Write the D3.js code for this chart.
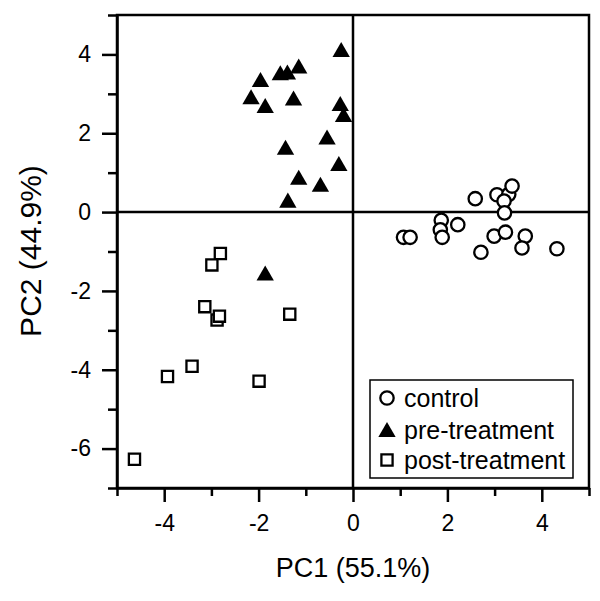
<!DOCTYPE html>
<html><head><meta charset="utf-8">
<script src="https://cdn.jsdelivr.net/npm/d3@7"></script>
<style>html,body{margin:0;padding:0;background:#fff;}</style>
</head><body>
<svg id="chart" width="600" height="601"></svg>
<script>
// Data
const controlX = [1.07, 1.21, 1.87, 1.85, 1.89, 2.22, 2.59, 3.05, 3.30, 3.20, 3.37, 3.21, 2.99, 3.23, 3.65, 3.58, 2.71, 4.32];
const controlY = [-0.64, -0.64, -0.21, -0.45, -0.64, -0.32, 0.34, 0.44, 0.45, 0.28, 0.66, -0.02, -0.61, -0.51, -0.61, -0.91, -1.02, -0.93];
const preX = [-0.25, -1.96, -1.54, -1.39, -1.15, -2.16, -1.86, -1.26, -0.27, -0.20, -0.55, -1.43, -0.30, -1.15, -0.69, -1.38, -1.86];
const preY = [4.06, 3.30, 3.47, 3.49, 3.64, 2.86, 2.64, 2.83, 2.69, 2.41, 1.84, 1.58, 1.17, 0.82, 0.64, 0.24, -1.61];
const postX = [-2.81, -2.99, -3.14, -2.88, -2.83, -1.34, -3.41, -3.93, -1.99, -4.63];
const postY = [-1.05, -1.34, -2.40, -2.74, -2.64, -2.59, -3.91, -4.17, -4.29, -6.27];
const xTicks = [-5, -4, -3, -2, -1, 0, 1, 2, 3, 4, 5];
const yTicks = [-7, -6, -5, -4, -3, -2, -1, 0, 1, 2, 3, 4, 5];
const seriesNames = ["control", "pre-treatment", "post-treatment"];
const xTitle = "PC1 (55.1%)";
const yTitle = "PC2 (44.9%)";

const svg = d3.select("#chart");
const L = 117, R = 589, T = 15, B = 488;
const x = d3.scaleLinear().domain([-5, 5]).range([L, R]);
const y = d3.scaleLinear().domain([-7, 5]).range([B, T]);
const font = "'Liberation Sans', Arial, sans-serif";

// frame
svg.append("rect").attr("x", L).attr("y", T).attr("width", R - L).attr("height", B - T)
  .attr("fill", "none").attr("stroke", "#000").attr("stroke-width", 2.5);
// zero lines
svg.append("line").attr("x1", L).attr("x2", R).attr("y1", y(0)).attr("y2", y(0))
  .attr("stroke", "#000").attr("stroke-width", 2.5);
svg.append("line").attr("x1", x(0)).attr("x2", x(0)).attr("y1", T).attr("y2", B)
  .attr("stroke", "#000").attr("stroke-width", 2.5);

// axes
const fmt = d => (d % 2 === 0 ? String(d) : "");
const xa = svg.append("g").attr("transform", `translate(0,${B})`)
  .call(d3.axisBottom(x).tickValues(xTicks).tickSize(14).tickSizeOuter(0).tickPadding(13).tickFormat(fmt));
const ya = svg.append("g").attr("transform", `translate(${L},0)`)
  .call(d3.axisLeft(y).tickValues(yTicks).tickSize(15).tickSizeOuter(0).tickPadding(11).tickFormat(fmt));
[xa, ya].forEach(g => {
  g.select(".domain").attr("stroke-width", 2.5);
  g.selectAll(".tick line").attr("stroke-width", 2.5);
  g.selectAll(".tick text").attr("font-family", font).attr("font-size", 23).attr("fill", "#000");
});
xa.selectAll(".tick").filter(d => d % 2 !== 0).select("line").attr("y2", 8);
ya.selectAll(".tick").filter(d => d % 2 !== 0).select("line").attr("x2", -9);

// titles
svg.append("text").attr("x", 353).attr("y", 577).attr("text-anchor", "middle")
  .attr("font-family", font).attr("font-size", 27).text(xTitle);
svg.append("text").attr("transform", "translate(41,251) rotate(-90)").attr("text-anchor", "middle")
  .attr("font-family", font).attr("font-size", 30).text(yTitle);

// symbols
const symCircle = d3.symbol().type(d3.symbolCircle).size(140)();
const symTri = d3.symbol().type(d3.symbolTriangle).size(130)();
const symSq = d3.symbol().type(d3.symbolSquare).size(125)();

const g = svg.append("g");
g.selectAll(".post").data(postX.map((v, i) => [v, postY[i]])).join("path")
  .attr("d", symSq).attr("transform", d => `translate(${x(d[0])},${y(d[1])})`)
  .attr("fill", "#fff").attr("stroke", "#000").attr("stroke-width", 2.3);
g.selectAll(".ctrl").data(controlX.map((v, i) => [v, controlY[i]])).join("path")
  .attr("d", symCircle).attr("transform", d => `translate(${x(d[0])},${y(d[1])})`)
  .attr("fill", "#fff").attr("stroke", "#000").attr("stroke-width", 2.3);
g.selectAll(".pre").data(preX.map((v, i) => [v, preY[i]])).join("path")
  .attr("d", symTri).attr("transform", d => `translate(${x(d[0])},${y(d[1])})`)
  .attr("fill", "#000");

// legend
const lg = svg.append("g");
lg.append("rect").attr("x", 370).attr("y", 380).attr("width", 203).attr("height", 98)
  .attr("fill", "#fff").attr("stroke", "#000").attr("stroke-width", 1.5);
const legSyms = [symCircle, symTri, symSq];
const legY = [398, 430, 460];
seriesNames.forEach((name, i) => {
  const p = lg.append("path").attr("d", legSyms[i]).attr("transform", `translate(387,${legY[i] + (i === 1 ? 2 : 0)})`);
  if (i === 1) p.attr("fill", "#000");
  else p.attr("fill", "#fff").attr("stroke", "#000").attr("stroke-width", 2.3);
  lg.append("text").attr("x", 404).attr("y", legY[i] + 9).attr("font-family", font)
    .attr("font-size", 25).text(name);
});
</script>
</body></html>
